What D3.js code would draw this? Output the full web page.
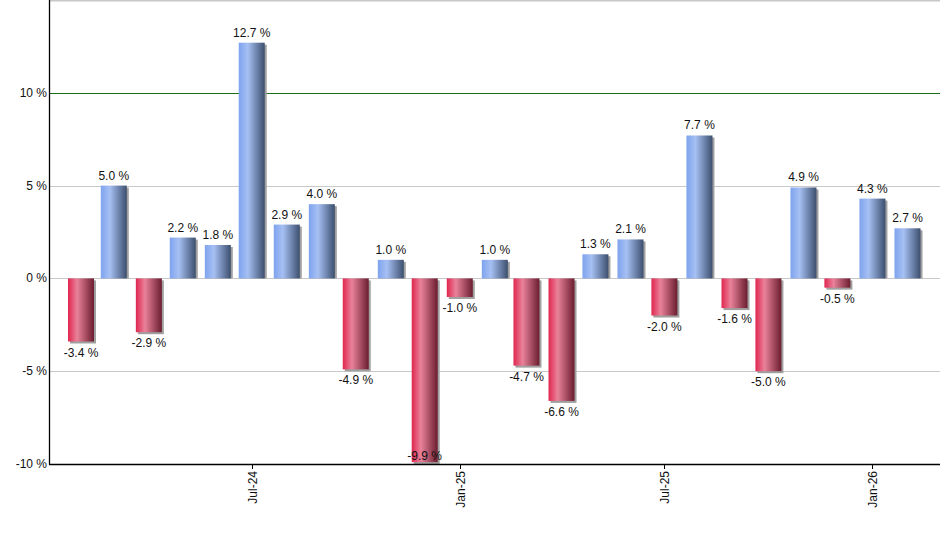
<!DOCTYPE html>
<html>
<head>
<meta charset="utf-8">
<script src="https://cdn.jsdelivr.net/npm/d3@7"></script>
<style>
  html, body { margin: 0; padding: 0; background: #fff; }
  svg { display: block; font-family: Arial, "Liberation Sans", sans-serif; }
</style>
</head>
<body>
<svg id="chart" width="940" height="550"></svg>
<script>
// Data
const months = ["2024-02","2024-03","2024-04","2024-05","2024-06","2024-07","2024-08","2024-09","2024-10","2024-11","2024-12",
                "2025-01","2025-02","2025-03","2025-04","2025-05","2025-06","2025-07","2025-08","2025-09","2025-10","2025-11","2025-12",
                "2026-01","2026-02"];
const returns = [-3.4, 5.0, -2.9, 2.2, 1.8, 12.7, 2.9, 4.0, -4.9, 1.0, -9.9,
                 -1.0, 1.0, -4.7, -6.6, 1.3, 2.1, -2.0, 7.7, -1.6, -5.0, 4.9, -0.5,
                 4.3, 2.7];
const yTicks = [-10, -5, 0, 5, 10];
const xTickDates = ["2024-07", "2025-01", "2025-07", "2026-01"];
const refLine = 10;

(function () {
const parse = d3.timeParse("%Y-%m");
const data = months.map((m, i) => ({ date: parse(m), v: returns[i] }));

const svg = d3.select("#chart");
const mLeft = 49, mTop = 0, mBottom = 464;

const x = d3.scaleTime()
  .domain([parse("2024-02"), parse("2026-02")])
  .range([81, 907.5]);
const y = d3.scaleLinear().domain([-10, 15]).range([mBottom, mTop]);

const barW = 26;
const fmt = v => d3.format(".1f")(v).replace("\u2212", "-") + " %";

// gradients
const defs = svg.append("defs");
function grad(id, stops) {
  const g = defs.append("linearGradient").attr("id", id)
    .attr("x1", "0%").attr("x2", "100%").attr("y1", "0%").attr("y2", "0%");
  stops.forEach(s => g.append("stop").attr("offset", s[0]).attr("stop-color", s[1]));
}
grad("gBlue", [["0%", "#7ea3ee"], ["35%", "#a6c0f3"], ["100%", "#3c4f6e"]]);
grad("gRed", [["0%", "#e0264f"], ["35%", "#e9829a"], ["100%", "#6b1d2f"]]);

// gridlines
svg.append("g").selectAll("line")
  .data([-5, 0, 5, 15])
  .join("line")
  .attr("x1", mLeft).attr("x2", 940)
  .attr("y1", d => Math.round(y(d)) + 0.5).attr("y2", d => Math.round(y(d)) + 0.5)
  .attr("stroke", "#c8c8c8").attr("stroke-width", d => d === 15 ? 2 : 1);

// reference line at 10%
svg.append("line")
  .attr("x1", mLeft).attr("x2", 940)
  .attr("y1", Math.round(y(refLine)) + 0.5).attr("y2", Math.round(y(refLine)) + 0.5)
  .attr("stroke", "#1a6b1a").attr("stroke-width", 1.2);

// bars shadow
const bars = svg.append("g");
bars.selectAll("rect.shadow")
  .data(data)
  .join("rect")
  .attr("class", "shadow")
  .attr("x", d => x(d.date) - barW / 2 + 2)
  .attr("y", d => Math.min(y(d.v), y(0)) + 2)
  .attr("width", barW)
  .attr("height", d => Math.abs(y(d.v) - y(0)) - (d.v < 0 ? 0 : 2))
  .attr("fill", "#a0a0a0");

bars.selectAll("rect.bar")
  .data(data)
  .join("rect")
  .attr("class", "bar")
  .attr("x", d => x(d.date) - barW / 2)
  .attr("y", d => Math.min(y(d.v), y(0)))
  .attr("width", barW)
  .attr("height", d => Math.abs(y(d.v) - y(0)))
  .attr("fill", d => d.v >= 0 ? "url(#gBlue)" : "url(#gRed)");

// value labels
svg.append("g").selectAll("text")
  .data(data)
  .join("text")
  .attr("x", d => x(d.date))
  .attr("y", d => d.v >= 0 ? y(d.v) - 6 : Math.min(y(d.v) + 15, mBottom - 4))
  .attr("text-anchor", "middle")
  .attr("font-size", 12)
  .attr("fill", "#111")
  .text(d => fmt(d.v));

// axes lines
svg.append("line").attr("x1", mLeft + 0.5).attr("x2", mLeft + 0.5).attr("y1", 0).attr("y2", mBottom + 0.5)
  .attr("stroke", "#000").attr("stroke-width", 1.3);
svg.append("line").attr("x1", mLeft).attr("x2", 940).attr("y1", mBottom + 0.5).attr("y2", mBottom + 0.5)
  .attr("stroke", "#000").attr("stroke-width", 1.3);

// y tick labels
svg.append("g").selectAll("text")
  .data(yTicks)
  .join("text")
  .attr("x", mLeft - 2)
  .attr("y", d => y(d) + 4)
  .attr("text-anchor", "end")
  .attr("font-size", 12)
  .attr("fill", "#111")
  .text(d => d + " %");

// x ticks
const xt = svg.append("g").selectAll("g")
  .data(xTickDates.map(parse))
  .join("g")
  .attr("transform", d => `translate(${Math.round(x(d)) + 0.5},${mBottom})`);
xt.append("line").attr("y1", 0).attr("y2", 5).attr("stroke", "#000").attr("stroke-width", 1);
xt.append("text")
  .attr("transform", "rotate(-90)")
  .attr("x", -7)
  .attr("y", 4)
  .attr("text-anchor", "end")
  .attr("font-size", 12)
  .attr("fill", "#111")
  .text(d => d3.timeFormat("%b-%y")(d));
})();
</script>
</body>
</html>
